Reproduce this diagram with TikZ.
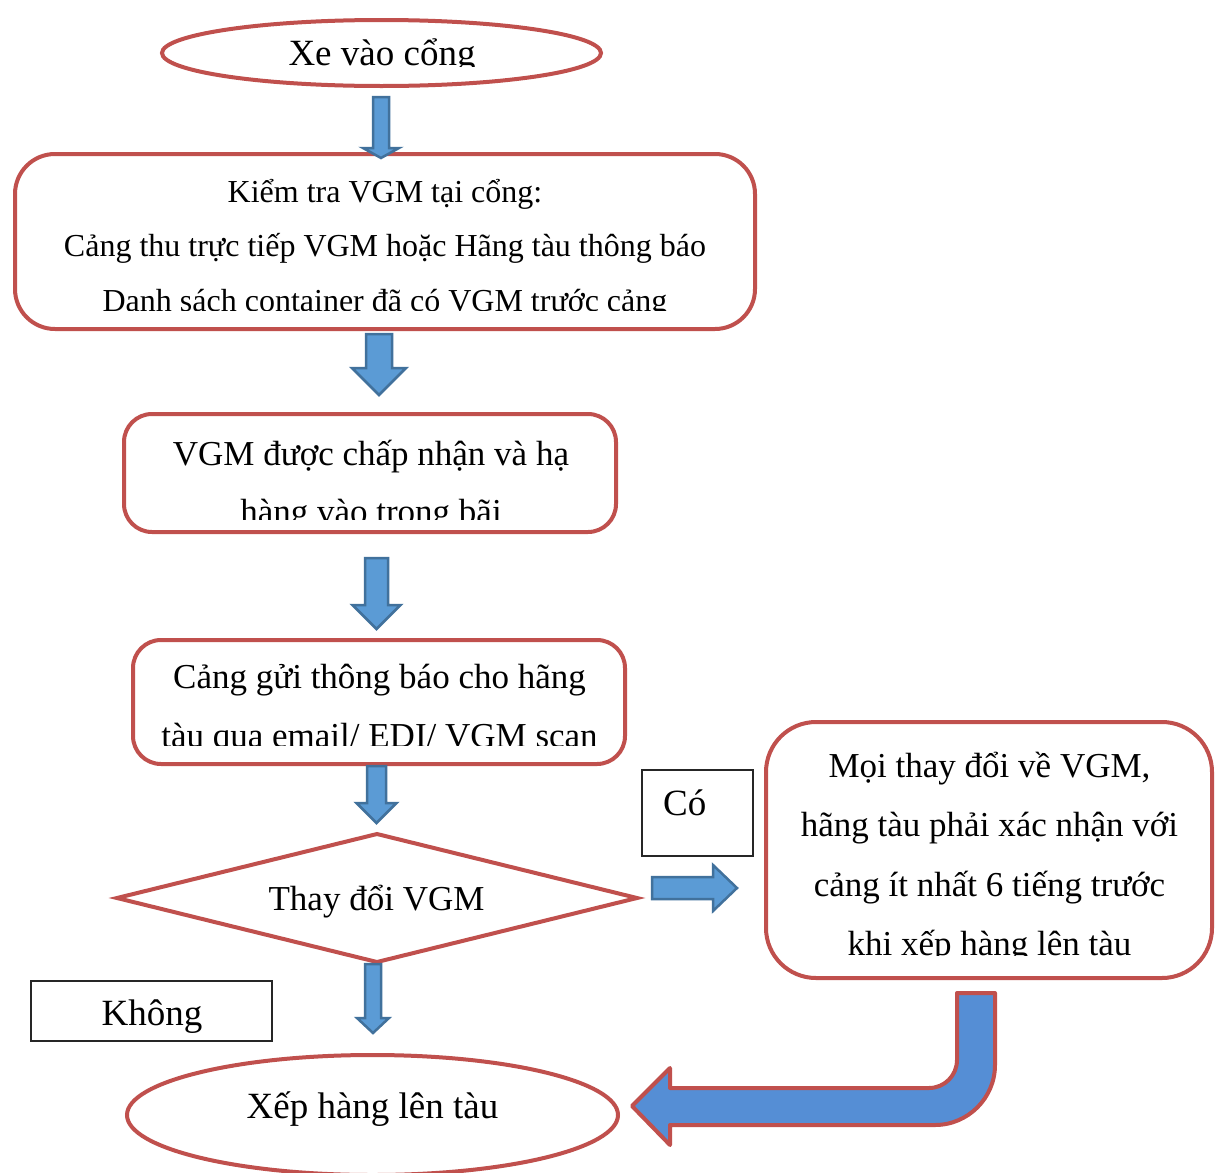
\documentclass[tikz,border=0pt]{standalone}
\usepackage{fontspec}
\setmainfont{Liberation Serif}
\usetikzlibrary{shapes.geometric}
\definecolor{redc}{HTML}{C0504D}
\definecolor{bluef}{HTML}{5B9BD5}
\definecolor{blueo}{HTML}{41719C}
\definecolor{bendf}{HTML}{558ED5}
\newcommand\vdarrow[6]{\draw[barrow] (#1-#3,#2) -- (#1+#3,#2) -- (#1+#3,#5) -- (#1+#4,#5) -- (#1,#6) -- (#1-#4,#5) -- (#1-#3,#5) -- cycle;}
\tikzset{
  redline/.style={draw=redc, line width=4pt},
  barrow/.style={fill=bluef, draw=blueo, line width=2.5pt, line join=miter},
  bentarrow/.style={fill=bendf, draw=redc, line width=4pt, line join=round},
  rbox/.style={redline, rectangle, inner sep=0pt},
  lbl/.style={anchor=base, inner sep=0pt},
  tag/.style={draw=black!85, line width=1.5pt, rectangle, inner sep=0pt},
  fA/.style={font=\fontsize{32}{38}\selectfont},
  fB/.style={font=\fontsize{35}{42}\selectfont},
  fC/.style={font=\fontsize{37}{44}\selectfont},
}
\begin{document}
\begin{tikzpicture}[x=1pt,y=-1pt]
\useasboundingbox (0,0) rectangle (1224,1173);
\fill[white] (0,0) rectangle (1224,1173);

% shapes
\node[redline, ellipse, inner sep=0pt, minimum width=439pt, minimum height=66pt] (start) at (381.5,53) {};
\node[rbox, rounded corners=40pt, minimum width=740pt, minimum height=175pt] (check) at (385,241.5) {};
\node[rbox, rounded corners=28pt, minimum width=492pt, minimum height=118pt] (accept) at (370,473) {};
\node[rbox, rounded corners=28pt, minimum width=492pt, minimum height=124pt] (notify) at (379,702) {};
\node[rbox, rounded corners=50pt, minimum width=446pt, minimum height=256pt] (confirm) at (989,850) {};
\node[redline, ellipse, inner sep=0pt, minimum width=491pt, minimum height=120pt] (load) at (372.5,1115) {};
\coordinate (dl) at (117,898);
\coordinate (dt) at (377,834);
\coordinate (dr) at (637,898);
\coordinate (db) at (377,962);
\draw[redline, line join=miter] (dl) -- (dt) -- (dr) -- (db) -- cycle;
\node[tag, minimum width=111pt, minimum height=86pt] (cobox) at (697.5,813) {};
\node[tag, minimum width=241pt, minimum height=60pt] (khongbox) at (151.5,1011) {};

% texts (clipped like the reference)
\begin{scope}
\clip (150,0) rectangle (620,66);
\node[lbl, fC] (tstart) at (382,65) {Xe vào cổng};
\end{scope}
\begin{scope}
\clip (15,150) rectangle (755,310);
\node[lbl, fA] (tcheck1) at (385,202) {Kiểm tra VGM tại cổng:};
\node[lbl, fA] (tcheck2) at (385,256.5) {Cảng thu trực tiếp VGM hoặc Hãng tàu thông báo};
\node[lbl, fA] (tcheck3) at (385,311) {Danh sách container đã có VGM trước cảng};
\end{scope}
\begin{scope}
\clip (124,414) rectangle (616,519);
\node[lbl, fB] (tacc1) at (371,465) {VGM được chấp nhận và hạ};
\node[lbl, fB] (tacc2) at (371,523) {hàng vào trong bãi};
\end{scope}
\begin{scope}
\clip (133,640) rectangle (625,745);
\node[lbl, fB] (tnot1) at (379.5,688) {Cảng gửi thông báo cho hãng};
\node[lbl, fB] (tnot2) at (379.5,747) {tàu qua email/ EDI/ VGM scan};
\end{scope}
\begin{scope}
\clip (766,722) rectangle (1212,955);
\node[lbl, fB] (tcon1) at (989.5,777) {Mọi thay đổi về VGM,};
\node[lbl, fB] (tcon2) at (989.5,836.5) {hãng tàu phải xác nhận với};
\node[lbl, fB] (tcon3) at (989.5,896) {cảng ít nhất 6 tiếng trước};
\node[lbl, fB] (tcon4) at (989.5,955.5) {khi xếp hàng lên tàu};
\end{scope}
\node[lbl, fB] (tdec) at (376.5,910) {Thay đổi VGM};
\node[lbl, fC] (tload) at (372.5,1118) {Xếp hàng lên tàu};
\node[lbl, fC] (tkhong) at (152,1025) {Không};
\node[lbl, fC, anchor=base west] (tco) at (663,815) {Có};

% block arrows
\vdarrow{381}{97}{8}{18}{148}{158}
\vdarrow{379}{334}{13}{27}{368}{395}
\vdarrow{376.5}{558}{11.5}{24}{605}{629}
\vdarrow{376.5}{766}{9.5}{20}{803}{823}
\vdarrow{373}{964}{8}{16}{1018}{1033}
\draw[barrow] (652,877) -- (713,877) -- (713,865) -- (737,888) -- (713,911) -- (713,899) -- (652,899) -- cycle;

% bent arrow
\draw[bentarrow] (957,993) -- (995,993) -- (995,1065)
  .. controls (995,1098) and (968,1125) .. (935,1125)
  -- (670,1125) -- (670,1145) -- (632,1106) -- (670,1068) -- (670,1088) -- (929,1088)
  .. controls (944.5,1088) and (957,1075.5) .. (957,1060) -- cycle;
\end{tikzpicture}
\end{document}
